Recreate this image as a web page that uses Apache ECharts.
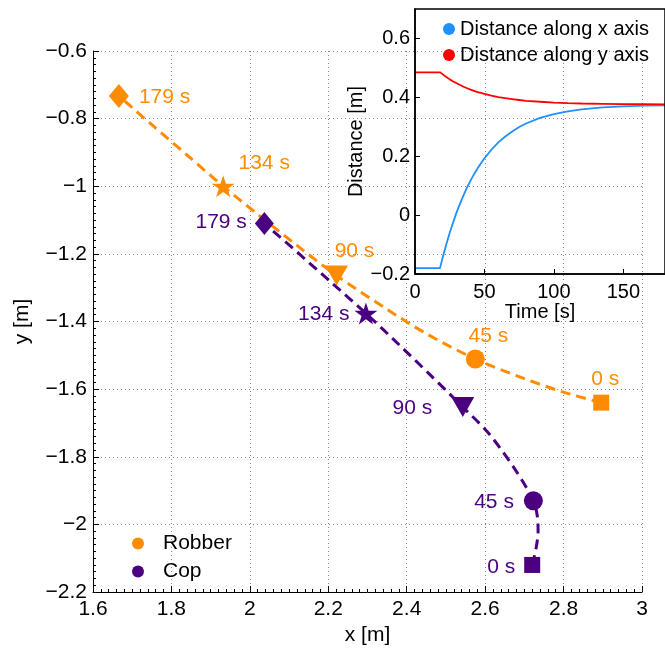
<!DOCTYPE html>
<html><head><meta charset="utf-8">
<script src="https://cdn.jsdelivr.net/npm/echarts@6/dist/echarts.min.js"></script>
<style>html,body{margin:0;padding:0;background:#fff}#c{width:665px;height:651px}</style>
</head><body><div id="c"></div>
<script>
// ---- data ----
const markTimes = ['0 s', '45 s', '90 s', '134 s', '179 s'];
const robberMarkX = [2.896, 2.575, 2.221, 1.932, 1.666];
const robberMarkY = [-1.640, -1.511, -1.264, -1.000, -0.733];
const copMarkX = [2.720, 2.723, 2.543, 2.296, 2.037];
const copMarkY = [-2.120, -1.930, -1.653, -1.376, -1.110];

const robberPathX = [2.896, 2.800, 2.700, 2.575, 2.450, 2.350, 2.221, 2.120, 2.020, 1.932, 1.840, 1.750, 1.666];
const robberPathY = [-1.640, -1.609, -1.569, -1.511, -1.436, -1.364, -1.264, -1.175, -1.083, -1.000, -0.908, -0.818, -0.733];
const copPathX = [2.720, 2.730, 2.735, 2.733, 2.723, 2.680, 2.610, 2.543, 2.460, 2.380, 2.296, 2.210, 2.120, 2.037];
const copPathY = [-2.120, -2.070, -2.020, -1.975, -1.930, -1.844, -1.732, -1.653, -1.558, -1.468, -1.376, -1.287, -1.194, -1.110];

const timeS = [0, 18, 20, 22.5, 25, 27.5, 30, 32.5, 35, 37.5, 40, 42.5, 45, 47.5, 50, 55, 60, 65, 70, 75, 80, 90, 100, 110, 120, 135, 150, 165, 180];
const distX = [-0.180, -0.180, -0.143, -0.100, -0.060, -0.024, 0.010, 0.040, 0.068, 0.094, 0.117, 0.139, 0.158, 0.176, 0.193, 0.222, 0.247, 0.267, 0.284, 0.299, 0.311, 0.330, 0.343, 0.352, 0.359, 0.366, 0.369, 0.372, 0.373];
const distY = [0.485, 0.485, 0.478, 0.469, 0.461, 0.454, 0.448, 0.442, 0.436, 0.431, 0.426, 0.422, 0.418, 0.415, 0.412, 0.406, 0.401, 0.397, 0.394, 0.391, 0.388, 0.385, 0.382, 0.380, 0.379, 0.378, 0.377, 0.377, 0.376];

// ---- styles ----
const ORANGE = '#FF8C00', PURPLE = '#4B0082', FONT = 'Liberation Sans, Arial, sans-serif';
const STAR = 'path://M0,-10 L2.245,-3.09 L9.51,-3.09 L3.633,1.18 L5.878,8.09 L0,3.82 L-5.878,8.09 L-3.633,1.18 L-9.51,-3.09 L-2.245,-3.09 Z';
const symbols = ['rect', 'circle', 'triangle', STAR, 'diamond'];
const rotations = [0, 0, 180, 0, 0];
const robberSizes = [[16,16], 19, [23,20], [23,22], [20,24]];
const copSizes = [[16,16], 19, [23,20], [23,22], [19,23]];
const robberLabelPos = ['top','top','top','top','right'];
const robberLabelOff = [[4,0],[13,2],[18,1],[41,3],[5,1]];
const copLabelOff = [[-4,2],[-5,1],[-14,1],[0,1],[-3,-1]];

const minus = v => String(v).replace('-', '\u2212');

function markers(xs, ys, sizes, color, posArr, offArr) {
  return xs.map((x, i) => ({
    value: [x, ys[i]],
    symbol: symbols[i],
    symbolRotate: rotations[i],
    symbolSize: sizes[i],
    label: { show: true, formatter: markTimes[i], position: posArr[i], offset: offArr[i],
             color: color, fontSize: 21, fontFamily: FONT, distance: 5 }
  }));
}
const zip = (a, b) => a.map((v, i) => [v, b[i]]);

const chart = echarts.init(document.getElementById('c'), null, {renderer: 'canvas'});
const gridLine = { show: true, lineStyle: { color: '#888', type: [1, 3], width: 1 } };
chart.setOption({
  animation: false,
  backgroundColor: '#fff',
  textStyle: { fontFamily: FONT },
  grid: [
    { left: 93, top: 51, width: 549, height: 541 },
    { left: 415, top: 9, width: 256, height: 265, show: true, borderColor: '#000', borderWidth: 1.5, backgroundColor: 'transparent', z: 5 }
  ],
  xAxis: [
    { gridIndex: 0, type: 'value', min: 1.6, max: 3, interval: 0.2,
      name: 'x [m]', nameLocation: 'middle', nameGap: 30, nameTextStyle: { fontSize: 21, color: '#000', fontFamily: FONT },
      axisLine: { show: true, onZero: false, lineStyle: { color: '#000', width: 1 } },
      axisTick: { show: true, inside: true, length: 6, lineStyle: { color: '#000' } },
      minorTick: { show: true, splitNumber: 10, length: 3, lineStyle: { color: '#000' } },
      axisLabel: { fontSize: 21, color: '#000', margin: 7, formatter: minus, fontFamily: FONT },
      splitLine: gridLine },
    { gridIndex: 1, type: 'value', min: 0, max: 180, interval: 50,
      name: 'Time [s]', nameLocation: 'middle', nameGap: 26, nameTextStyle: { fontSize: 20, color: '#000', fontFamily: FONT },
      axisLine: { show: true, onZero: false, lineStyle: { color: '#000', width: 1.5 } },
      axisTick: { show: true, inside: true, length: 5, lineStyle: { color: '#000' } },
      axisLabel: { fontSize: 20, color: '#000', margin: 8, formatter: minus, showMaxLabel: false, fontFamily: FONT },
      splitLine: { show: false }, z: 6 }
  ],
  yAxis: [
    { gridIndex: 0, type: 'value', min: -2.2, max: -0.6, interval: 0.2,
      name: 'y [m]', nameLocation: 'middle', nameGap: 60, nameRotate: 90, nameTextStyle: { fontSize: 21, color: '#000', fontFamily: FONT },
      axisLine: { show: true, onZero: false, lineStyle: { color: '#000', width: 1 } },
      axisTick: { show: true, inside: true, length: 6, lineStyle: { color: '#000' } },
      minorTick: { show: true, splitNumber: 10, length: 3, lineStyle: { color: '#000' } },
      axisLabel: { fontSize: 21, color: '#000', margin: 6, formatter: minus, fontFamily: FONT },
      splitLine: gridLine },
    { gridIndex: 1, type: 'value', min: -0.2, max: 0.7, interval: 0.2,
      name: 'Distance [m]', nameLocation: 'middle', nameGap: 48, nameRotate: 90, nameTextStyle: { fontSize: 20, color: '#000', fontFamily: FONT },
      axisLine: { show: true, onZero: false, lineStyle: { color: '#000', width: 1.5 } },
      axisTick: { show: true, inside: true, length: 5, lineStyle: { color: '#000' } },
      axisLabel: { fontSize: 20, color: '#000', margin: 5, formatter: minus, showMaxLabel: false, fontFamily: FONT },
      splitLine: { show: false }, z: 6 }
  ],
  legend: [
    { data: ['Robber', 'Cop'], left: 127, top: 528, orient: 'vertical', icon: 'circle',
      itemWidth: 12, itemHeight: 12, itemGap: 7,
      textStyle: { fontSize: 21, color: '#000', padding: [0, 0, 0, 14], fontFamily: FONT } },
    { data: ['Distance along x axis', 'Distance along y axis'], left: 438, top: 14, orient: 'vertical', icon: 'circle',
      itemWidth: 12, itemHeight: 12, itemGap: 6,
      textStyle: { fontSize: 20, color: '#000', padding: [0, 0, 0, 0], fontFamily: FONT } }
  ],
  series: [
    { name: 'robberPath', type: 'line', xAxisIndex: 0, yAxisIndex: 0, data: zip(robberPathX, robberPathY),
      showSymbol: false, smooth: 0.3, silent: true, z: 2,
      lineStyle: { color: ORANGE, width: 3, type: [10, 6] }, itemStyle: { color: ORANGE } },
    { name: 'copPath', type: 'line', xAxisIndex: 0, yAxisIndex: 0, data: zip(copPathX, copPathY),
      showSymbol: false, smooth: 0.3, silent: true, z: 2,
      lineStyle: { color: PURPLE, width: 3, type: [10, 6] }, itemStyle: { color: PURPLE } },
    { name: 'Robber', type: 'scatter', xAxisIndex: 0, yAxisIndex: 0, z: 3,
      itemStyle: { color: ORANGE, opacity: 1 },
      data: markers(robberMarkX, robberMarkY, robberSizes, ORANGE, robberLabelPos, robberLabelOff) },
    { name: 'Cop', type: 'scatter', xAxisIndex: 0, yAxisIndex: 0, z: 3,
      itemStyle: { color: PURPLE, opacity: 1 },
      data: markers(copMarkX, copMarkY, copSizes, PURPLE, ['left','left','left','left','left'], copLabelOff) },
    { name: 'Distance along x axis', type: 'line', xAxisIndex: 1, yAxisIndex: 1, data: zip(timeS, distX),
      showSymbol: false, smooth: false, z: 4,
      lineStyle: { color: '#1E90FF', width: 1.8 }, itemStyle: { color: '#1E90FF' } },
    { name: 'Distance along y axis', type: 'line', xAxisIndex: 1, yAxisIndex: 1, data: zip(timeS, distY),
      showSymbol: false, smooth: false, z: 4,
      lineStyle: { color: '#FF0000', width: 1.8 }, itemStyle: { color: '#FF0000' } }
  ]
});
</script></body></html>
